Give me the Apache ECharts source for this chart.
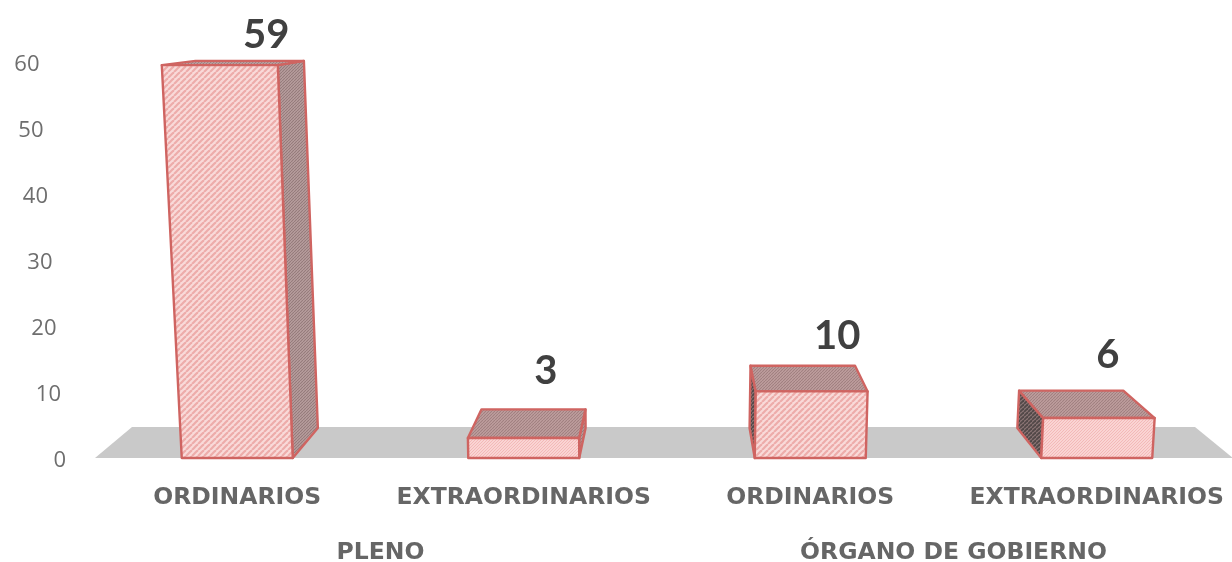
<!DOCTYPE html>
<html><head><meta charset="utf-8">
<style>html,body{margin:0;padding:0;background:#fff}#c{width:1232px;height:562px}</style>
<script src="https://cdn.jsdelivr.net/npm/echarts@6/dist/echarts.min.js"></script>
</head><body><div id="c"></div>
<script>
const categories = ["ORDINARIOS","EXTRAORDINARIOS","ORDINARIOS","EXTRAORDINARIOS"];
const groups = ["PLENO","ÓRGANO DE GOBIERNO"];
const values = [59,3,10,6];
const yTicks = [0,10,20,30,40,50,60];
// styling only
const tickPad = {0:0,10:5,20:9.5,30:13.5,40:18,50:22.5,60:26.5};
const labelShift = [[29,-30],[22,-67],[27,-55],[11,-63]];

function hatch(bg, fg, size, lw){
  const c=document.createElement('canvas');c.width=c.height=size;
  const g=c.getContext('2d');g.fillStyle=bg;g.fillRect(0,0,size,size);
  g.strokeStyle=fg;g.lineWidth=lw;
  for(let o=-size;o<=size*2;o+=size){g.beginPath();g.moveTo(o,size);g.lineTo(o+size,0);g.stroke();}
  return {image:c,repeat:'repeat'};
}
const faces = {
  frontWide: hatch('#f9dad9','#edacaa',6,2.2),
  frontFine: hatch('#fad4d3','#f3b9b8',3,1),
  right: hatch('#bda3a3','#957b7b',3,1.2),
  top: hatch('#c4a3a3','#a08181',3,1.2),
  left: hatch('#8c7575','#524848',4,1.8)
};
const edge = {stroke:'#cf6461',lineWidth:2.4,lineJoin:'round'};
const VPX=676, DEPTH=0.0655, LEAN=0.045, LEANX=625, FRONT=1.009, HALF=55.5;

function renderBar(params, api){
  const i=api.value(0), v=api.value(1);
  const p0=api.coord([i,0]), pv=api.coord([i,v]);
  const baseY=p0[1]-1, topY=baseY-(p0[1]-pv[1])*FRONT, h=baseY-topY;
  const lean=x=>LEANX+(x-LEANX)*(1+LEAN*h/393);
  const bl=[p0[0]-HALF,baseY], br=[p0[0]+HALF,baseY];
  const tl=[lean(bl[0]),topY], tr=[lean(br[0]),topY];
  const back=p=>[p[0]+(VPX-p[0])*DEPTH,p[1]*(1-DEPTH)];
  const poly=(pts,fill)=>({type:'polygon',shape:{points:pts},style:Object.assign({fill},edge)});
  const children=[];
  if(br[0]<VPX) children.push(poly([br,back(br),back(tr),tr],faces.right));
  if(bl[0]>VPX) children.push(poly([bl,back(bl),back(tl),tl],faces.left));
  children.push(poly([tl,tr,back(tr),back(tl)],faces.top));
  children.push(poly([bl,br,tr,tl],v<8?faces.frontFine:faces.frontWide));
  const s=labelShift[i];
  children.push({type:'text',style:{text:String(v),x:p0[0]+s[0],y:topY+s[1],
    align:'center',verticalAlign:'middle',fill:'#404040',
    font:'700 40px Lato, sans-serif'}});
  return {type:'group',children};
}
function renderFloor(params, api){
  const cs=params.coordSys, y=api.coord([0,0])[1]-1;
  const L=cs.x, R=cs.x+cs.width;
  return {type:'polygon',shape:{points:[[L+1,y],[L+38,y-31],[R-45,y-31],[R-7,y]]},
    style:{fill:'#c9c9c9'}};
}
const rich={};
yTicks.forEach(t=>{rich['t'+t]={padding:[4,tickPad[t],0,0],fontSize:22,color:'#6e6e6e',fontFamily:'Open Sans'};});
const catLabel={fontFamily:'DejaVu Sans',fontWeight:700,fontSize:23.5,color:'#666666',interval:0};
const chart=echarts.init(document.getElementById('c'),null,{renderer:'canvas'});
chart.setOption({
  animation:false,backgroundColor:'#fff',
  grid:{left:94,width:1146,top:63,height:396,containLabel:false,outerBoundsMode:'none'},
  xAxis:[
    {type:'category',data:categories.map(c=>({value:c})),position:'bottom',
     axisLine:{show:false},axisTick:{show:false},axisLabel:Object.assign({margin:27},catLabel)},
    {type:'category',data:groups,position:'bottom',
     axisLine:{show:false},axisTick:{show:false},axisLabel:Object.assign({margin:82},catLabel)}
  ],
  yAxis:{type:'value',min:0,max:60,interval:10,splitLine:{show:false},axisLine:{show:false},axisTick:{show:false},
    axisLabel:{margin:28,formatter:v=>`{t${v}|${v}}`,rich}},
  series:[
    {type:'custom',name:'floor',renderItem:renderFloor,data:[[0,0]],encode:{x:0,y:1},z:1,clip:false,silent:true},
    {type:'custom',name:'Sesiones',renderItem:renderBar,data:values.map((v,i)=>[i,v]),encode:{x:0,y:1},z:2,clip:false}
  ]
});
</script></body></html>
